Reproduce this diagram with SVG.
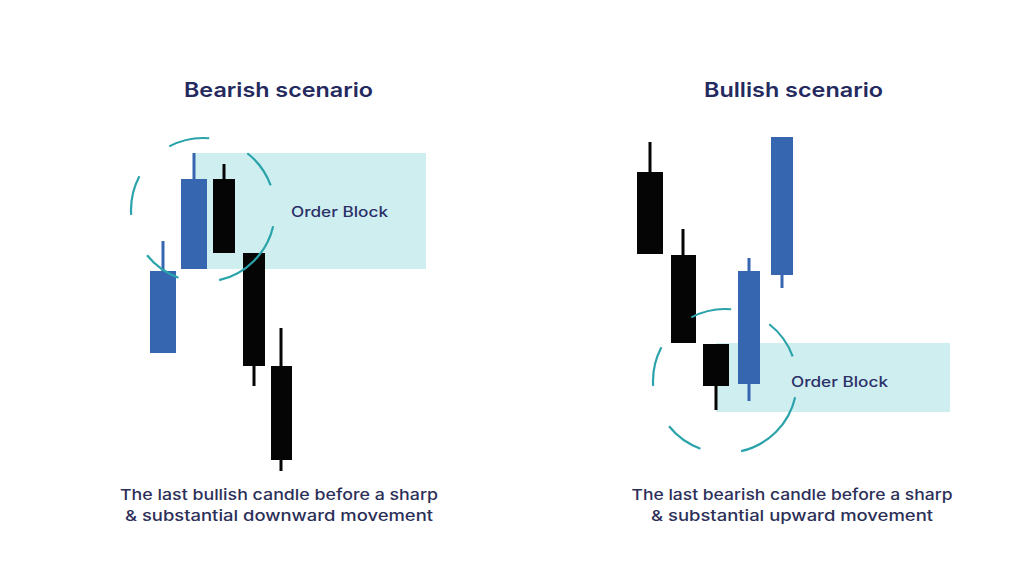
<svg xmlns="http://www.w3.org/2000/svg" width="1024" height="576" viewBox="0 0 1024 576">
  <style>
    .title { font-family: Inter, "Open Sans", "Liberation Sans", sans-serif; font-weight: 600; font-size: 20px; fill: #242a5e; }
    .label { font-family: Inter, "Open Sans", "Liberation Sans", sans-serif; font-weight: 500; font-size: 14px; fill: #2b3168; }
    .caption { font-family: Inter, "Open Sans", "Liberation Sans", sans-serif; font-weight: 500; font-size: 15px; fill: #2c2f58; }
    .ob { fill: #cfeef0; }
    .bull { fill: #3766b0; }
    .bear { fill: #050505; }
    .wb { stroke: #3766b0; stroke-width: 3; }
    .wk { stroke: #050505; stroke-width: 3; }
    .ring { fill: none; stroke: #2aa3ab; stroke-width: 2.2; stroke-dasharray: 64 33 31 35 32 34 33 33 32 33; stroke-dashoffset: -13; }
  </style>
  <rect width="1024" height="576" fill="#ffffff"/>

  <g id="bearish">
    <text class="title" x="278.5" y="97" text-anchor="middle" textLength="189" lengthAdjust="spacingAndGlyphs">Bearish scenario</text>
    <g id="bearish-orderblock">
      <rect class="ob" x="194" y="153" width="232" height="116"/>
      <text class="label" x="291" y="217" textLength="97" lengthAdjust="spacingAndGlyphs">Order Block</text>
    </g>
    <g id="bearish-c1">
      <line class="wb" x1="163" y1="241" x2="163" y2="272"/>
      <rect class="bull" x="150" y="271" width="26" height="82"/>
    </g>
    <g id="bearish-c2">
      <line class="wb" x1="194" y1="153" x2="194" y2="180"/>
      <rect class="bull" x="181" y="179" width="26" height="90"/>
    </g>
    <g id="bearish-c3">
      <line class="wk" x1="224" y1="164" x2="224" y2="180"/>
      <rect class="bear" x="213" y="179" width="22" height="74"/>
    </g>
    <g id="bearish-c4">
      <rect class="bear" x="243" y="253" width="22" height="113"/>
      <line class="wk" x1="254" y1="365" x2="254" y2="386"/>
    </g>
    <g id="bearish-c5">
      <line class="wk" x1="281" y1="328" x2="281" y2="367"/>
      <rect class="bear" x="271" y="366" width="21" height="94"/>
      <line class="wk" x1="281" y1="459" x2="281" y2="471"/>
    </g>
    <circle id="bearish-ring" class="ring" cx="203" cy="210" r="72" pathLength="360"/>
    <text class="caption" x="279" y="500" text-anchor="middle" textLength="318" lengthAdjust="spacingAndGlyphs">The last bullish candle before a sharp</text>
    <text class="caption" x="279" y="521" text-anchor="middle" textLength="308" lengthAdjust="spacingAndGlyphs">&amp; substantial downward movement</text>
  </g>

  <g id="bullish">
    <text class="title" x="793.5" y="97" text-anchor="middle" textLength="179" lengthAdjust="spacingAndGlyphs">Bullish scenario</text>
    <g id="bullish-orderblock">
      <rect class="ob" x="716" y="343" width="234" height="69"/>
      <text class="label" x="791" y="387" textLength="97" lengthAdjust="spacingAndGlyphs">Order Block</text>
    </g>
    <g id="bullish-c1">
      <line class="wk" x1="650" y1="142" x2="650" y2="173"/>
      <rect class="bear" x="637" y="172" width="26" height="82"/>
    </g>
    <g id="bullish-c2">
      <line class="wk" x1="683" y1="229" x2="683" y2="256"/>
      <rect class="bear" x="671" y="255" width="25" height="88"/>
    </g>
    <g id="bullish-c3">
      <rect class="bear" x="703" y="344" width="26" height="42"/>
      <line class="wk" x1="716" y1="385" x2="716" y2="410"/>
    </g>
    <g id="bullish-c4">
      <line class="wb" x1="749" y1="258" x2="749" y2="401"/>
      <rect class="bull" x="738" y="271" width="22" height="113"/>
    </g>
    <g id="bullish-c5">
      <rect class="bull" x="771" y="137" width="22" height="138"/>
      <line class="wb" x1="782" y1="274" x2="782" y2="288"/>
    </g>
    <circle id="bullish-ring" class="ring" cx="725" cy="381" r="72" pathLength="360"/>
    <text class="caption" x="792" y="500" text-anchor="middle" textLength="321" lengthAdjust="spacingAndGlyphs">The last bearish candle before a sharp</text>
    <text class="caption" x="792" y="521" text-anchor="middle" textLength="282" lengthAdjust="spacingAndGlyphs">&amp; substantial upward movement</text>
  </g>
</svg>
